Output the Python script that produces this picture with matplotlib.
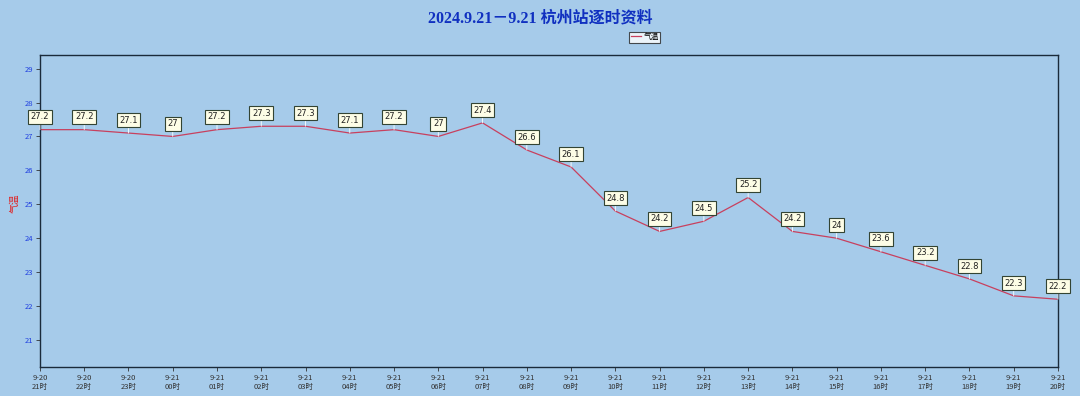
import matplotlib
matplotlib.use('Agg')
import matplotlib.pyplot as plt

plt.rcParams['font.family'] = ['Noto Sans CJK SC', 'DejaVu Sans']

# hourly temperature, Hangzhou station
dates = ['9-20', '9-20', '9-20'] + ['9-21'] * 21
hours = ['21', '22', '23', '00', '01', '02', '03', '04', '05', '06', '07', '08',
         '09', '10', '11', '12', '13', '14', '15', '16', '17', '18', '19', '20']
temps = [27.2, 27.2, 27.1, 27, 27.2, 27.3, 27.3, 27.1, 27.2, 27, 27.4, 26.6,
         26.1, 24.8, 24.2, 24.5, 25.2, 24.2, 24, 23.6, 23.2, 22.8, 22.3, 22.2]
yticks = [21, 22, 23, 24, 25, 26, 27, 28, 29]

bg = '#a6cbea'
fig = plt.figure(figsize=(10.8, 3.96), dpi=100, facecolor=bg)
ax = fig.add_axes([0.037, 0.073, 0.9426, 0.788])
ax.set_facecolor(bg)

x = list(range(len(temps)))
ax.plot(x, temps, color='#c8405e', lw=0.9, label='气温')

for xi, t in zip(x, temps):
    ax.annotate(f'{t:g}', xy=(xi, t), xytext=(0, 6), textcoords='offset points',
                ha='center', va='bottom', fontsize=6, color='#222222',
                family=['DejaVu Sans'],
                bbox=dict(boxstyle='square,pad=0.3', fc='#fdfde6', ec='#334433', lw=0.8),
                arrowprops=dict(arrowstyle='-', color='white', lw=0.6, shrinkA=0, shrinkB=0))

ax.set_xlim(0, len(temps) - 1)
ax.set_ylim(20.2, 29.4)
ax.set_xticks(x)
ax.set_xticklabels([f'{d}\n{h}时' for d, h in zip(dates, hours)], fontsize=5.5, color='#333333',
                   linespacing=1.1)
ax.set_yticks(yticks)
ax.set_yticklabels([str(v) for v in yticks], fontsize=5.5, color='#2040e0')
ax.tick_params(axis='both', length=3, width=0.6, color='#333333', pad=2)
for s in ax.spines.values():
    s.set_color('#1a2a3a')
    s.set_linewidth(1.0)

fig.text(0.0139, 0.487, '气温', rotation=90, color='#e02020', fontsize=7,
         ha='center', va='center')

fig.text(0.5, 0.953, '2024.9.21－9.21 杭州站逐时资料', ha='center', va='center',
         fontsize=11.5, fontweight='bold', color='#1030c0',
         family=['Liberation Serif', 'Noto Sans CJK SC'])

leg = ax.legend(loc='lower center', bbox_to_anchor=(0.594, 1.04), fontsize=5.5,
                frameon=True, fancybox=False, handlelength=1.4, borderpad=0.2,
                handletextpad=0.3, borderaxespad=0)
leg.get_frame().set_edgecolor('#222222')
leg.get_frame().set_facecolor('white')
leg.get_frame().set_linewidth(0.8)

fig.savefig('out.png', dpi=100, facecolor=bg)
